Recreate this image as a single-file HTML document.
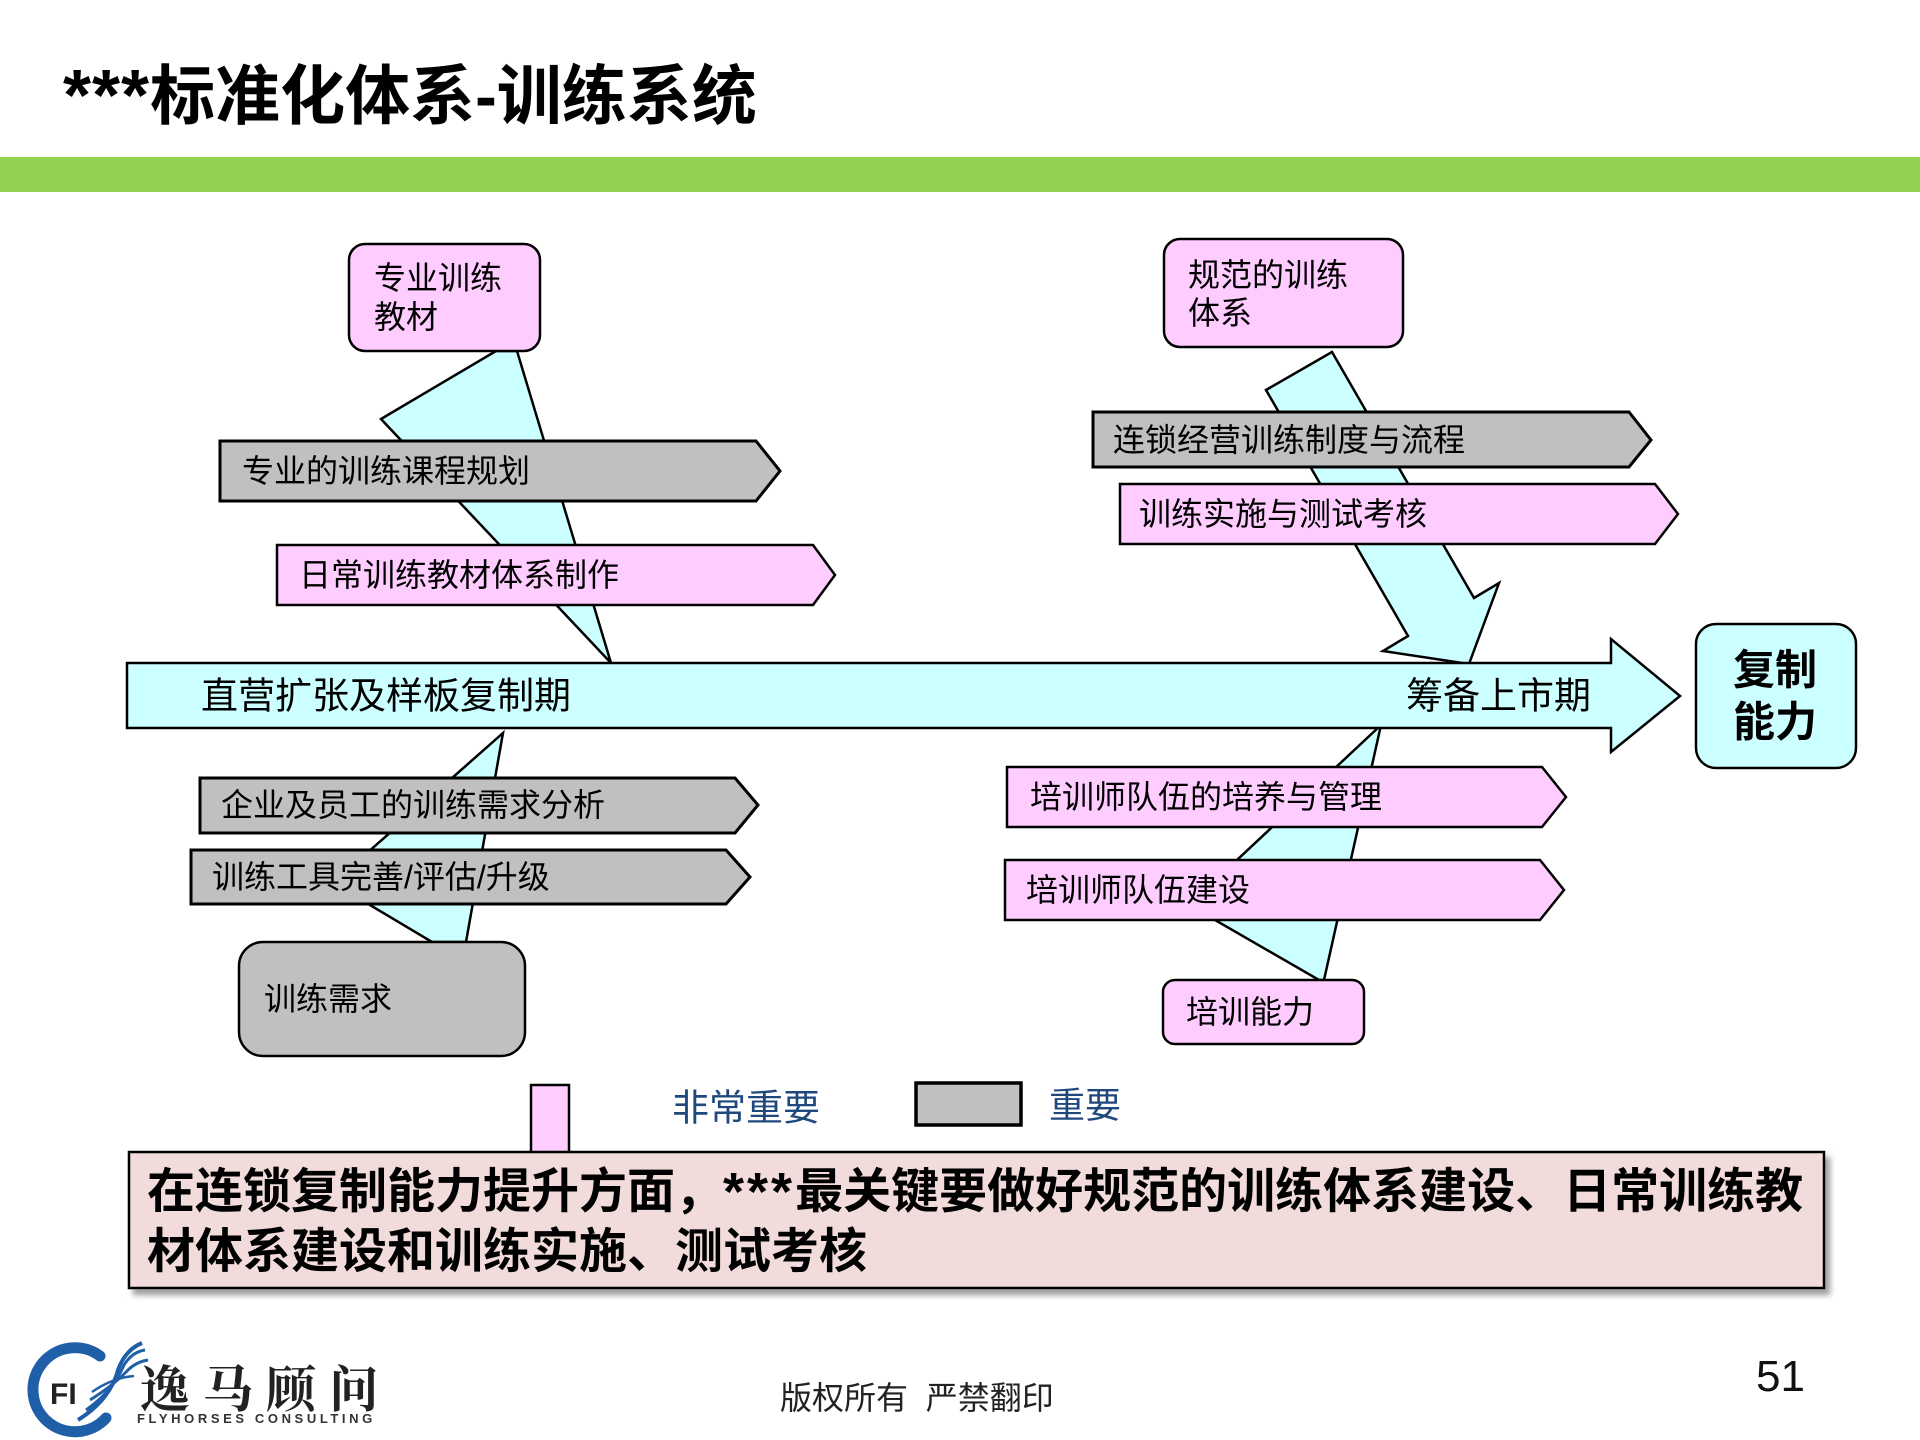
<!DOCTYPE html>
<html><head><meta charset="utf-8"><style>
html,body{margin:0;padding:0;background:#fff;}
svg{display:block;}
text{font-family:"Liberation Sans","Noto Sans CJK SC",sans-serif;}
</style></head><body>
<svg width="1920" height="1440" viewBox="0 0 1920 1440" xmlns="http://www.w3.org/2000/svg">
<defs>
<filter id="sh" x="-5%" y="-20%" width="115%" height="150%">
<feDropShadow dx="5" dy="6" stdDeviation="3" flood-color="#777" flood-opacity="0.7"/>
</filter>
</defs>
<rect width="1920" height="1440" fill="#fff"/>
<!-- title -->
<text x="63" y="96" font-size="65" font-weight="bold" fill="#000" dominant-baseline="central"><tspan font-size="72" letter-spacing="1">***</tspan>标准化体系-训练系统</text>
<rect x="0" y="157" width="1920" height="35" fill="#92D050"/>

<g stroke="#000" stroke-width="2.5" stroke-linejoin="miter">
<!-- cyan connectors -->
<polygon points="496,351 517,351 611,663 381,419" fill="#CCFFFF"/>
<polygon points="1332,352 1474,598 1499,583 1469,664 1383,651 1408,636 1266,390" fill="#CCFFFF"/>
<polygon points="503,733 466,942 432,942 333,883" fill="#CCFFFF"/>
<polygon points="1381,725 1324,980 1319,980 1189,905" fill="#CCFFFF"/>

<!-- main arrow -->
<polygon points="127,663 1611,663 1611,639 1680,696 1611,752 1611,728 127,728" fill="#CCFFFF"/>

<!-- top-left -->
<rect x="349" y="244" width="191" height="107" rx="16" fill="#FFCCFF"/>
<polygon points="220,441 756,441 780,471 756,501 220,501" fill="#C0C0C0" stroke-width="3"/>
<polygon points="277,545 813,545 835,575 813,605 277,605" fill="#FFCCFF"/>

<!-- top-right -->
<rect x="1164" y="239" width="239" height="108" rx="16" fill="#FFCCFF"/>
<polygon points="1093,412 1629,412 1651,440 1629,467 1093,467" fill="#C0C0C0" stroke-width="3"/>
<polygon points="1120,484 1655,484 1678,514 1655,544 1120,544" fill="#FFCCFF"/>

<!-- result box -->
<rect x="1696" y="624" width="160" height="144" rx="20" fill="#CCFFFF"/>

<!-- bottom-left -->
<polygon points="200,778 735,778 758,805 735,833 200,833" fill="#C0C0C0" stroke-width="3"/>
<polygon points="191,850 726,850 750,877 726,904 191,904" fill="#C0C0C0" stroke-width="3"/>
<rect x="239" y="942" width="286" height="114" rx="24" fill="#C0C0C0"/>

<!-- bottom-right -->
<polygon points="1007,767 1542,767 1566,797 1542,827 1007,827" fill="#FFCCFF"/>
<polygon points="1005,860 1540,860 1564,890 1540,920 1005,920" fill="#FFCCFF"/>
<rect x="1163" y="980" width="201" height="64" rx="12" fill="#FFCCFF"/>

<!-- legend -->
<rect x="531" y="1085" width="38" height="80" fill="#FFCCFF"/>
<rect x="916" y="1083" width="105" height="42" fill="#C0C0C0" stroke-width="3.5"/>
</g>

<!-- bottom conclusion box -->
<rect x="129" y="1152" width="1695" height="136" fill="#F2DCDB" stroke="#000" stroke-width="2.5" filter="url(#sh)"/>

<!-- labels -->
<g fill="#000" font-size="32" dominant-baseline="central">
<text x="374" y="278">专业训练</text>
<text x="374" y="317">教材</text>
<text x="242" y="471">专业的训练课程规划</text>
<text x="299" y="575">日常训练教材体系制作</text>
<text x="1188" y="275">规范的训练</text>
<text x="1188" y="313">体系</text>
<text x="1113" y="440">连锁经营训练制度与流程</text>
<text x="1139" y="514">训练实施与测试考核</text>
<text x="221" y="805">企业及员工的训练需求分析</text>
<text x="212" y="877">训练工具完善/评估/升级</text>
<text x="264" y="999">训练需求</text>
<text x="1030" y="797">培训师队伍的培养与管理</text>
<text x="1026" y="890">培训师队伍建设</text>
<text x="1186" y="1012">培训能力</text>
</g>
<g fill="#000" font-size="37" dominant-baseline="central">
<text x="201" y="696">直营扩张及样板复制期</text>
<text x="1406" y="696">筹备上市期</text>
</g>
<g fill="#000" font-size="42" font-weight="bold" dominant-baseline="central">
<text x="1733" y="670">复制</text>
<text x="1733" y="722">能力</text>
</g>
<g fill="#1F497D" font-size="37" dominant-baseline="central">
<text x="672" y="1108">非常重要</text>
<text x="1049" y="1105" font-size="36">重要</text>
</g>
<g fill="#000" font-size="48" font-weight="bold" dominant-baseline="central">
<text x="147" y="1192">在连锁复制能力提升方面，<tspan font-size="54" letter-spacing="3">***</tspan>最关键要做好规范的训练体系建设、日常训练教</text>
<text x="147" y="1252">材体系建设和训练实施、测试考核</text>
</g>

<!-- footer -->
<text x="780" y="1398" font-size="32" fill="#222" dominant-baseline="central" xml:space="preserve">版权所有  严禁翻印</text>
<text x="1756" y="1391" font-size="44" fill="#111">51</text>

<!-- logo -->
<g>
<path d="M 100 1356 A 42 42 0 1 0 106 1418" fill="none" stroke="#1F5FA8" stroke-width="11" stroke-linecap="round"/>
<text x="50" y="1404" font-size="30" font-weight="bold" fill="#222" font-family="Liberation Sans, sans-serif">FI</text>
<path d="M 78 1420 Q 110 1400 118 1370 Q 125 1350 142 1343" fill="none" stroke="#1F5FA8" stroke-width="4"/>
<path d="M 86 1410 Q 112 1392 124 1365 Q 132 1352 145 1350" fill="none" stroke="#1F5FA8" stroke-width="3"/>
<path d="M 90 1400 Q 114 1385 128 1370 Q 136 1362 148 1360" fill="none" stroke="#1F5FA8" stroke-width="3"/>
<path d="M 92 1392 Q 112 1378 134 1376" fill="none" stroke="#1F5FA8" stroke-width="2.5"/>
<text x="140" y="1386" font-size="50" font-weight="bold" letter-spacing="13" fill="#222" dominant-baseline="central" style="font-family:'Noto Serif CJK SC','Noto Sans CJK SC',serif;">逸马顾问</text>
<text x="137" y="1423" font-size="13" font-weight="bold" letter-spacing="3.6" fill="#333" font-family="Liberation Sans, sans-serif">FLYHORSES CONSULTING</text>
</g>
</svg>
</body></html>
